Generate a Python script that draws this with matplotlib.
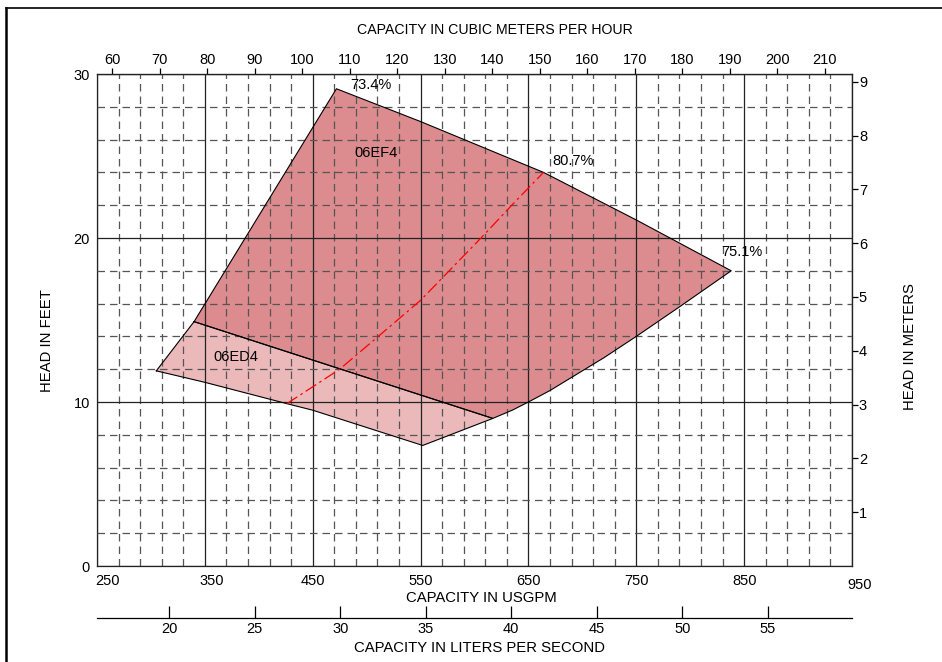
import numpy as np
import matplotlib
matplotlib.use("Agg")
import matplotlib.pyplot as plt
from matplotlib.lines import Line2D
import matplotlib.transforms as mtransforms

plt.rcParams['font.family'] = ['Liberation Sans', 'DejaVu Sans']

# 06EF4 operating region (USGPM, head ft)
ef4_gpm = [340, 472, 550, 664, 750, 838, 790, 750, 720, 690, 670, 650, 635, 617]
ef4_ft = [14.9, 29.1, 27.1, 24.0, 21.1, 18.0, 15.8, 14.0, 12.7, 11.5, 10.7, 10.0, 9.5, 9.0]

# 06ED4 operating region
ed4_gpm = [305, 340, 617, 552, 450, 426, 350]
ed4_ft = [11.9, 14.9, 9.0, 7.35, 9.5, 9.9, 11.2]

# best efficiency line
bep_gpm = [426, 475, 509, 550, 606, 636, 664]
bep_ft = [9.9, 12.0, 13.9, 16.2, 20.0, 22.1, 24.0]

# efficiency / model labels
labels = ["73.4%", "80.7%", "75.1%", "06EF4", "06ED4"]
label_gpm = [485, 672, 829, 489, 358]
label_ft = [29.35, 24.7, 19.15, 25.2, 12.75]

gpm_ticks = [250, 350, 450, 550, 650, 750, 850, 950]
ft_ticks = [0, 10, 20, 30]
m3h_ticks = list(range(60, 220, 10))
m_ticks = [1, 2, 3, 4, 5, 6, 7, 8, 9]
ls_ticks = [20, 25, 30, 35, 40, 45, 50, 55]

fig = plt.figure(figsize=(9.42, 6.62), dpi=100)
ax = fig.add_axes([97/942, 1-566/662, 755/942, 492/662])

ax.fill(ef4_gpm, ef4_ft, color="#dc8b8e", lw=0, zorder=1)
ax.fill(ed4_gpm, ed4_ft, color="#ebb9ba", lw=0, zorder=1)
ax.plot(ef4_gpm + ef4_gpm[:1], ef4_ft + ef4_ft[:1], color="black", lw=0.8, zorder=4)
ax.plot(ed4_gpm + ed4_gpm[:1], ed4_ft + ed4_ft[:1], color="black", lw=0.8, zorder=4)
ax.plot(bep_gpm, bep_ft, color="red", lw=0.9, dashes=(10, 3, 2, 3), zorder=5)

for t, x, y in zip(labels, label_gpm, label_ft):
    ax.text(x, y, t, fontsize=10.5, ha="left", va="center", zorder=6)

ax.set_xlim(250, 950)
ax.set_ylim(0, 30)
ax.set_xticks(gpm_ticks)
ax.set_xticks(np.arange(270, 950, 20), minor=True)
ax.set_yticks(ft_ticks)
ax.set_yticks(np.arange(2, 30, 2), minor=True)
ax.grid(which="major", color="#222222", lw=0.9, ls="-")
ax.grid(which="minor", color="#555555", lw=0.9, ls=(0, (6, 4)))
ax.set_axisbelow(False)
ax.tick_params(which="both", length=0, labelsize=10.5)
ax.tick_params(axis="x", pad=6)
ax.tick_params(axis="y", pad=5)
for s in ax.spines.values():
    s.set_linewidth(0.9)
    s.set_color("#222222")

# the printed chart nudges a few USGPM labels off their gridlines
shifts = {"250": (11, 0), "350": (7, 0), "950": (8, -4)}
for lab in ax.get_xticklabels():
    dx, dy = shifts.get(lab.get_text(), (0, 0))
    lab.set_transform(lab.get_transform() + mtransforms.ScaledTranslation(dx/100, dy/100, fig.dpi_scale_trans))

top = ax.secondary_xaxis("top", functions=(lambda q: q / 4.4029, lambda q: q * 4.4029))
top.set_xticks(m3h_ticks)
top.tick_params(direction="out", length=4, width=0.9, labelsize=10.5, pad=1)

right = ax.secondary_yaxis("right", functions=(lambda h: h * 0.3048, lambda h: h / 0.3048))
right.set_yticks(m_ticks)
right.tick_params(direction="out", length=4, width=0.9, labelsize=10.5, pad=1)

ls_ax = ax.secondary_xaxis(-52/492, functions=(lambda q: q / 15.8503, lambda q: q * 15.8503))
ls_ax.set_xticks(ls_ticks)
ls_ax.tick_params(direction="in", length=9, width=0.9, labelsize=10.5, pad=3)
ls_ax.spines["bottom"].set_linewidth(0.9)

fig.text(495/942, 1-30/662, "CAPACITY IN CUBIC METERS PER HOUR", ha="center", va="center", fontsize=10.2)
fig.text(481/942, 1-598/662, "CAPACITY IN USGPM", ha="center", va="center", fontsize=10.7)
fig.text(480/942, 1-648/662, "CAPACITY IN LITERS PER SECOND", ha="center", va="center", fontsize=10.7)
fig.text(47/942, 1-341/662, "HEAD IN FEET", ha="center", va="center", rotation=90, fontsize=10.7)
fig.text(910/942, 1-347/662, "HEAD IN METERS", ha="center", va="center", rotation=90, fontsize=10.7)

fig.add_artist(Line2D([6/942, 1], [1-8/662, 1-8/662], transform=fig.transFigure, color="black", lw=1.2))
fig.add_artist(Line2D([6/942, 6/942], [0, 1-8/662], transform=fig.transFigure, color="black", lw=1.8))

fig.savefig("out.png", dpi=100)
